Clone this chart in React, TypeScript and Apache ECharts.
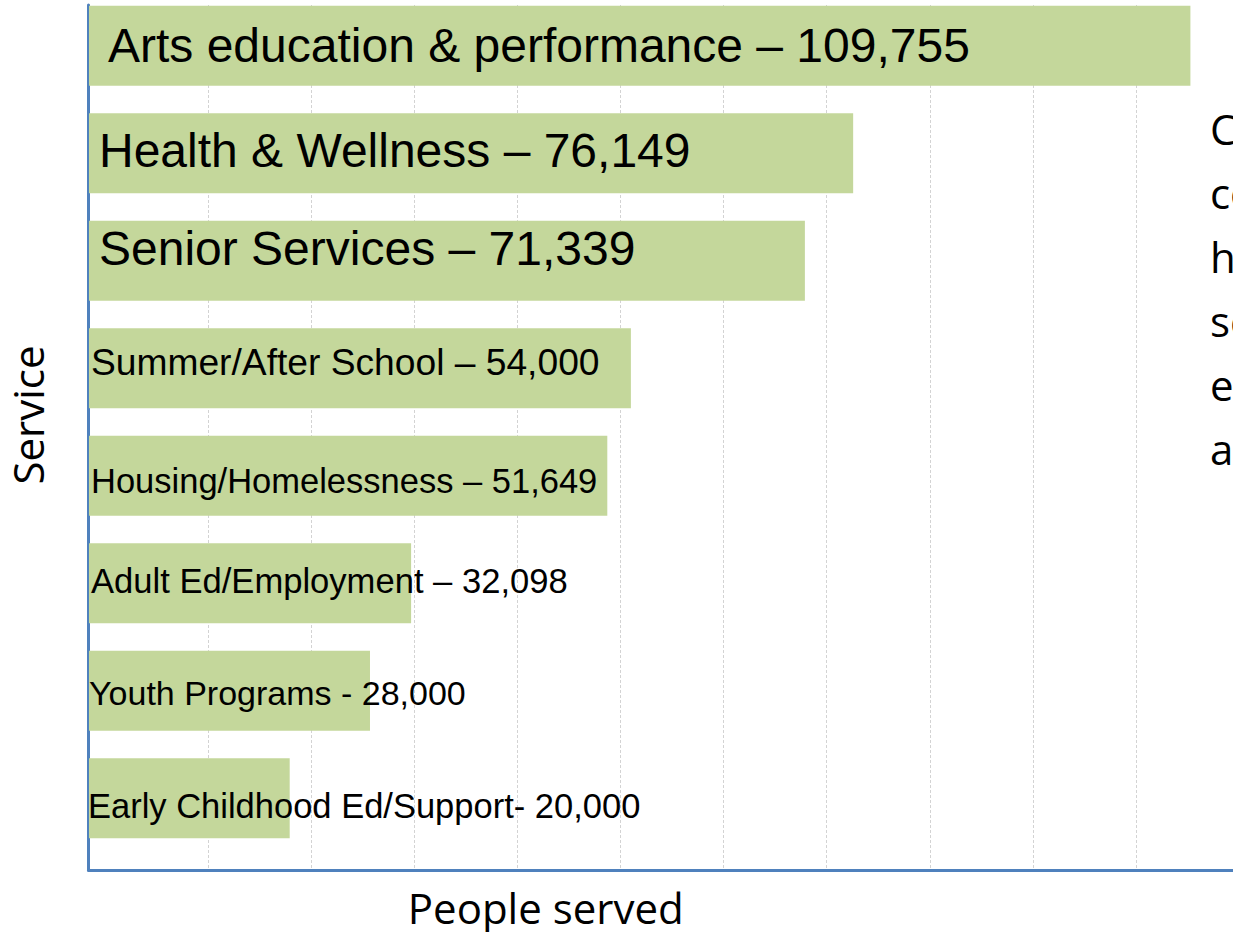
import React, { useEffect, useRef } from "react";
import * as echarts from "echarts";

const categories = [
  "Arts education & performance",
  "Health & Wellness",
  "Senior Services",
  "Summer/After School",
  "Housing/Homelessness",
  "Adult Ed/Employment",
  "Youth Programs",
  "Early Childhood Ed/Support",
];
const values = [109755, 76149, 71339, 54000, 51649, 32098, 28000, 20000];
const separators = [" – ", " – ", " – ", " – ", " – ", " – ", " - ", "- "];
const xAxisTitle = "People served";
const yAxisTitle = "Service";
const sideTextLines = ["C", "co", "h", "se", "e", "a"];

// label styling (not data)
const labelFont = [48, 48, 48, 37.2, 34.5, 34.6, 34, 34.5];
const labelDx = [19, 10, 10, 2, 2, 2, 0, -1];
const labelDy = [0, -3, -12, -6, 5, -2, 2, 8];

const fmt = (n: number) => n.toLocaleString("en-US");

export default function App() {
  const ref = useRef<HTMLDivElement>(null);
  useEffect(() => {
    if (!ref.current) return;
    const chart = echarts.init(ref.current, null, { renderer: "svg" });
    const option: any = {
      animation: false,
      backgroundColor: "#ffffff",
      grid: [
        { left: 89, right: 0, top: -8, height: 860, outerBoundsMode: "none", containLabel: false },
        { left: 104.9, right: 0, top: 5, bottom: 62, outerBoundsMode: "none", containLabel: false },
        { left: 88.5, right: -10, top: 5, bottom: 62, outerBoundsMode: "none", containLabel: false },
      ],
      xAxis: [
        { gridIndex: 0, type: "value", min: 0, max: 114000, show: false },
        {
          gridIndex: 1,
          type: "value",
          min: 0,
          max: 10.94,
          interval: 1,
          axisLine: { show: false },
          axisTick: { show: false },
          axisLabel: { show: false },
          splitLine: {
            show: true,
            showMinLine: false,
            showMaxLine: false,
            lineStyle: { color: "#d3d3d3", width: 1, type: [3, 2] },
          },
        },
        {
          gridIndex: 2,
          type: "value",
          min: 0,
          max: 1,
          axisLine: { show: true, lineStyle: { color: "#4f81bd", width: 3 } },
          axisTick: { show: false },
          axisLabel: { show: false },
          splitLine: { show: false },
          name: xAxisTitle,
          nameLocation: "middle",
          nameGap: 16,
          nameTextStyle: {
            fontFamily: "Open Sans",
            fontSize: 42,
            color: "#000",
            padding: [0, 240, 0, 0],
          },
        },
      ],
      yAxis: [
        {
          gridIndex: 0,
          type: "category",
          data: categories,
          inverse: true,
          show: false,
        },
        { gridIndex: 1, type: "value", show: false },
        {
          gridIndex: 2,
          type: "value",
          min: 0,
          max: 1,
          axisLine: { show: true, lineStyle: { color: "#4f81bd", width: 3 } },
          axisTick: { show: false },
          axisLabel: { show: false },
          splitLine: { show: false },
          name: yAxisTitle,
          nameLocation: "middle",
          nameGap: 40,
          nameRotate: 90,
          nameTextStyle: {
            fontFamily: "Open Sans",
            fontSize: 42,
            color: "#000",
            padding: [0, 0, 0, 45],
          },
        },
      ],
      series: [
        {
          type: "bar",
          xAxisIndex: 0,
          yAxisIndex: 0,
          barWidth: 80,
          z: 3,
          itemStyle: { color: "#c4d79b" },
          data: values.map((v, i) => ({
            value: v,
            label: {
              show: true,
              position: "insideLeft",
              distance: labelDx[i],
              offset: [0, labelDy[i]],
              fontSize: labelFont[i],
              fontFamily: "Liberation Sans, Arial, sans-serif",
              color: "#000",
              formatter: () => categories[i] + separators[i] + fmt(values[i]),
            },
          })),
        },
      ],
      graphic: [
        {
          type: "text",
          left: 1210,
          top: 96,
          style: {
            text: sideTextLines.join("\n"),
            fontFamily: "Open Sans",
            fontSize: 42,
            lineHeight: 64,
            fill: "#000",
          },
        },
      ],
    };
    chart.setOption(option);
    return () => chart.dispose();
  }, []);
  return (
    <div
      ref={ref}
      style={{ position: "fixed", left: 0, top: 0, width: 1233, height: 932 }}
    />
  );
}
